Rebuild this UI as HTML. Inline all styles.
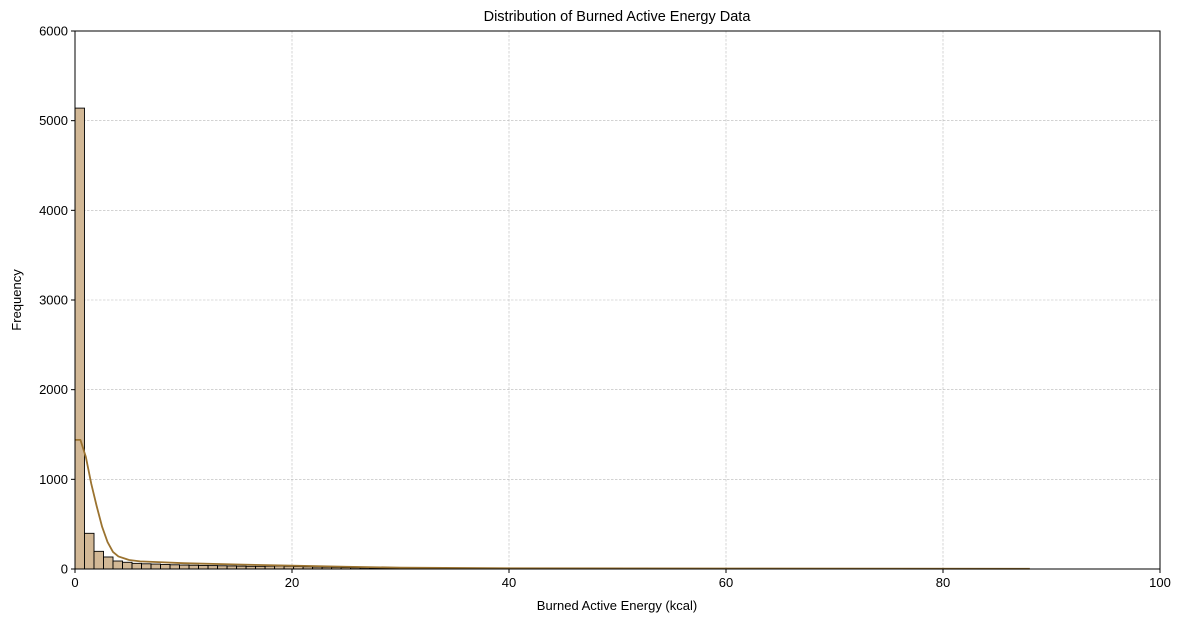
<!DOCTYPE html>
<html><head><meta charset="utf-8"><style>
body{margin:0;background:#fff;}
svg text{font-family:"Liberation Sans",sans-serif;fill:#000;}
</style></head><body>
<svg width="1183" height="622" xmlns="http://www.w3.org/2000/svg">
<g id="grid"></g><g id="bars"></g><g id="kde"></g><g id="axes"></g>
</svg>
<script>
const counts=[5140,398,197,134,89,75,63,58,55,50,47,44,42,40,38,36,34,32,30,30,32,33,30,28,25,22,20,18,16,14,12,10,9,8,7,7,6,6,5,5,5,4,4,4,4,3,3,3,3,3,3,3,3,3,2,2,2,2,2,2,2,2,2,2,2,2,2,2,2,1,1,1,1,1,1,1,1,1,1,1,1,1,1,1,1,1,1,1,1,1,1,1,1,1,1,1,1,1,1,1];
const binStart=0, binWidth=0.876;
const kdeX=[0,0.5,1,1.5,2,2.5,3,3.5,4,5,6,8,10,15,20,25,30,40,60,88];
const kdeY=[1440,1440,1250,950,700,470,300,190,140,100,85,75,65,50,38,25,15,8,5,3];
const xTicks=[0,20,40,60,80,100];
const yTicks=[0,1000,2000,3000,4000,5000,6000];
const L=75,R=1160,T=31,B=569;
const xs=v=>L+(v-0)/(100-0)*(R-L);
const ys=v=>B-(v/6000)*(B-T);
const NS="http://www.w3.org/2000/svg";
function mk(tag,attrs,parent){const e=document.createElementNS(NS,tag);for(const k in attrs)e.setAttribute(k,attrs[k]);parent.appendChild(e);return e;}
const grid=document.getElementById('grid'),bars=document.getElementById('bars'),kdeG=document.getElementById('kde'),axes=document.getElementById('axes');
xTicks.forEach(t=>{if(t>0&&t<100){const l=mk('line',{x1:xs(t),x2:xs(t),y1:T,y2:B,stroke:'#b8b8b8','stroke-width':0.6,'stroke-dasharray':'2.5,1.5'},grid);

}});
yTicks.forEach(t=>{if(t>0&&t<6000){const l=mk('line',{x1:L,x2:R,y1:ys(t),y2:ys(t),stroke:'#b8b8b8','stroke-width':0.6,'stroke-dasharray':'2.5,1.5'},grid);

}});
counts.forEach((c,i)=>{const x0=xs(binStart+i*binWidth),x1=xs(binStart+(i+1)*binWidth);
const r=mk('rect',{x:x0,y:ys(c),width:x1-x0,height:B-ys(c),fill:'#d2b896',stroke:'#000','stroke-width':0.9},bars);

});
let d='';kdeX.forEach((x,i)=>{d+=(i?'L':'M')+xs(x)+','+ys(kdeY[i]);});
const p=mk('path',{d:d,fill:'none',stroke:'#9b7330','stroke-width':1.8,'stroke-linejoin':'round'},kdeG);


const fr=mk('rect',{x:L,y:T,width:R-L,height:B-T,fill:'none',stroke:'#000','stroke-width':1},axes);


xTicks.forEach(t=>{mk('line',{x1:xs(t),x2:xs(t),y1:B,y2:B+4,stroke:'#000'},axes);
const tx=mk('text',{x:xs(t),y:B+18,'text-anchor':'middle','font-size':13},axes);tx.textContent=t;

});
yTicks.forEach(t=>{mk('line',{x1:L-4,x2:L,y1:ys(t),y2:ys(t),stroke:'#000'},axes);
const tx=mk('text',{x:L-7,y:ys(t)+4.5,'text-anchor':'end','font-size':13},axes);tx.textContent=t;

});
</script>
<svg style="position:absolute;left:0;top:0" width="1183" height="622" xmlns="http://www.w3.org/2000/svg">
<text x="617" y="21" text-anchor="middle" font-size="14.5">Distribution of Burned Active Energy Data</text>
<text x="617" y="610" text-anchor="middle" font-size="13">Burned Active Energy (kcal)</text>
<text x="21" y="300" text-anchor="middle" font-size="13" transform="rotate(-90 21 300)">Frequency</text>
</svg>
</body></html>
